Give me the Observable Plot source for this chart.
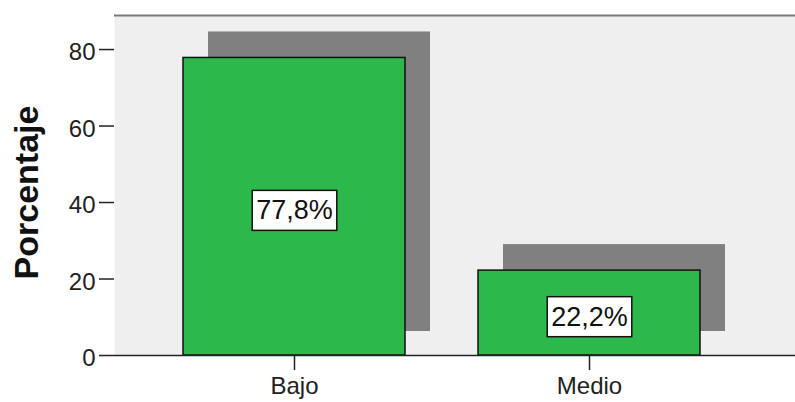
<!DOCTYPE html>
<html>
<head>
<meta charset="utf-8">
<script src="https://cdn.jsdelivr.net/npm/d3@7"></script>
<script src="https://cdn.jsdelivr.net/npm/@observablehq/plot@0.6"></script>
<style>
  html, body { margin: 0; padding: 0; background: #ffffff; }
  #chart { width: 795px; height: 402px; overflow: hidden; }
</style>
</head>
<body>
<div id="chart"></div>
<script>
const categories = ["Bajo", "Medio"];
const percentages = [77.8, 22.2];
const valueLabels = ["77,8%", "22,2%"];
const yTicks = [0, 20, 40, 60, 80];
const yMax = 88.9;
const yTitle = "Porcentaje";

const data = categories.map((c, i) => ({cat: c, value: percentages[i], label: valueLabels[i]}));

const chart = Plot.plot({
  width: 795,
  height: 402,
  marginLeft: 114,
  marginRight: 0,
  marginTop: 15,
  marginBottom: 47,
  style: {fontFamily: "'Liberation Sans', Arial, sans-serif", background: "#ffffff", color: "#222"},
  x: {domain: categories, paddingInner: 0.246, paddingOuter: 0.2765, align: 0.42, axis: null},
  y: {domain: [0, yMax], axis: null},
  marks: [
    Plot.frame({fill: "#efefef", stroke: null}),
    Plot.barY(data, {x: "cat", y: "value", fill: "#808080", dx: 25, dy: -24, insetTop: -2}),
    Plot.barY(data, {x: "cat", y: "value", fill: "#2db84b", stroke: "#111", strokeWidth: 1.5}),
    Plot.ruleY([yMax], {stroke: "#7a7a7a", strokeWidth: 2}),
    Plot.ruleY([0], {stroke: "#222", strokeWidth: 1.5}),
    Plot.axisY({ticks: yTicks, tickSize: 15, tickFormat: () => "", line: true, stroke: "#222", strokeWidth: 1.5, label: null}),
    Plot.axisY({ticks: yTicks, tickSize: 0, tickPadding: 19, fontSize: 24, dy: 3, fill: "#222", label: null}),
    Plot.axisX({tickSize: 15, tickPadding: 6, fontSize: 24, stroke: "#222", strokeWidth: 1.5, fill: "#222", label: null}),
    Plot.text(data, {x: "cat", y: d => d.value / 2, text: "label", fontSize: 27, dy: 4, fill: "#111"}),
    Plot.text([yTitle], {frameAnchor: "left", textAnchor: "middle", text: d => d, rotate: -90, fontSize: 34, fontWeight: "bold", dx: -87, dy: 7, fill: "#111"})
  ]
});

document.getElementById("chart").appendChild(chart);

// white boxes with black border behind the percentage labels
chart.querySelectorAll("text").forEach(t => {
  if (!/%$/.test(t.textContent)) return;
  const b = t.getBBox();
  const r = document.createElementNS("http://www.w3.org/2000/svg", "rect");
  r.setAttribute("x", b.x - 4);
  r.setAttribute("y", b.y - 5);
  r.setAttribute("width", b.width + 8);
  r.setAttribute("height", b.height + 10);
  r.setAttribute("fill", "#ffffff");
  r.setAttribute("stroke", "#111");
  r.setAttribute("stroke-width", 1.5);
  const tr = t.getAttribute("transform");
  if (tr) r.setAttribute("transform", tr);
  t.parentNode.insertBefore(r, t);
});
</script>
</body>
</html>
